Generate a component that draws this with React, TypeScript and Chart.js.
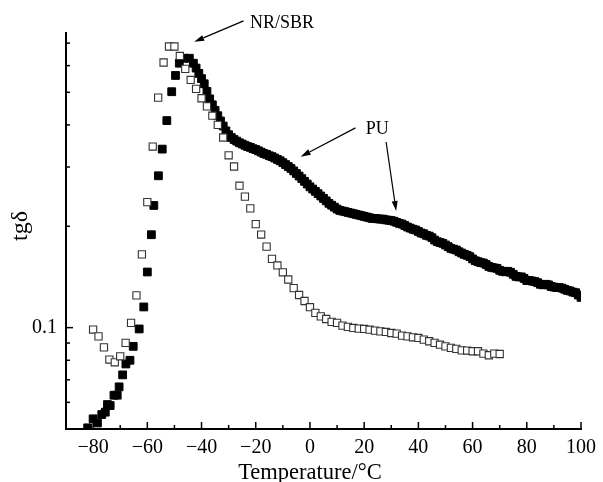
import React, { useEffect, useRef } from 'react';
import { Chart, registerables } from 'chart.js';

Chart.register(...registerables);

// ---- data ----
const openTemp = [
  -80, -78, -76, -74, -72, -70, -68, -66, -64, -62, -60, -58, -56, -54, -52, -50, -48, -46, -44, -42,
  -40, -38, -36, -34, -32, -30, -28, -26, -24, -22, -20, -18, -16, -14, -12, -10, -8, -6, -4, -2,
  0, 2, 4, 6, 8, 10, 12, 14, 16, 18, 20, 22, 24, 26, 28, 30, 32, 34, 36, 38,
  40, 42, 44, 46, 48, 50, 52, 54, 56, 58, 60, 62, 64, 66, 68, 70,
];
const openTgd = [
  0.0987, 0.0942, 0.0874, 0.0804, 0.0789, 0.0822, 0.0901, 0.1033, 0.1247, 0.165, 0.236, 0.345, 0.482, 0.613, 0.684, 0.684, 0.641, 0.587, 0.544, 0.512,
  0.48, 0.454, 0.426, 0.4, 0.367, 0.325, 0.301, 0.264, 0.245, 0.226, 0.203, 0.189, 0.174, 0.16, 0.153, 0.146, 0.139, 0.131, 0.125, 0.12,
  0.115, 0.1106, 0.108, 0.1061, 0.104, 0.1033, 0.1014, 0.1005, 0.0998, 0.0993, 0.0991, 0.0986, 0.098, 0.0975, 0.0971, 0.0964, 0.096, 0.0947, 0.0942, 0.0936,
  0.0932, 0.0921, 0.0911, 0.0901, 0.089, 0.088, 0.0871, 0.0865, 0.0856, 0.0855, 0.0851, 0.0851, 0.0837, 0.0828, 0.0837, 0.0835,
];

const filledTemp = [
  -82.0, -80.0, -78.4, -76.8, -75.5, -74.7, -73.7, -72.3, -71.1, -70.4, -69.1, -67.9, -66.4, -65.2, -63.0, -61.3,
  -60.0, -58.5, -57.6, -55.9, -54.5, -52.8, -51.0, -49.6, -48.2, -46.4, -44.5, -43.0,
  -42, -41, -40, -39, -38, -37, -36, -35, -34, -33, -32, -31, -30, -29, -28, -27, -26, -25, -24, -23, -22, -21,
  -20, -19, -18, -17, -16, -15, -14, -13, -12, -11, -10, -9, -8, -7, -6, -5, -4, -3, -2, -1,
  0, 1, 2, 3, 4, 5, 6, 7, 8, 9, 10, 11, 12, 13, 14, 15, 16, 17, 18, 19,
  20, 21, 22, 23, 24, 25, 26, 27, 28, 29, 30, 31, 32, 33, 34, 35, 36, 37, 38, 39,
  40, 41, 42, 43, 44, 45, 46, 47, 48, 49, 50, 51, 52, 53, 54, 55, 56, 57, 58, 59,
  60, 61, 62, 63, 64, 65, 66, 67, 68, 69, 70, 71, 72, 73, 74, 75, 76, 77, 78, 79,
  80, 81, 82, 83, 84, 85, 86, 87, 88, 89, 90, 91, 92, 93, 94, 95, 96, 97, 98, 99, 100,
];
const filledTgd = [
  0.0504, 0.0536, 0.0521, 0.0552, 0.0561, 0.0591, 0.0587, 0.063, 0.063, 0.0667, 0.0724, 0.078, 0.08, 0.088, 0.0991, 0.1152,
  0.1463, 0.1888, 0.2306, 0.2825, 0.339, 0.412, 0.502, 0.561, 0.61, 0.631, 0.631, 0.61,
  0.59, 0.569, 0.549, 0.53, 0.503, 0.478, 0.459, 0.442, 0.426, 0.411, 0.397, 0.384, 0.374, 0.367, 0.362, 0.358, 0.354, 0.351, 0.348, 0.345, 0.343, 0.34,
  0.338, 0.335, 0.332, 0.329, 0.327, 0.324, 0.322, 0.319, 0.316, 0.313, 0.309, 0.305, 0.301, 0.297, 0.292, 0.287, 0.282, 0.277, 0.272, 0.267,
  0.262, 0.258, 0.254, 0.25, 0.246, 0.242, 0.238, 0.234, 0.231, 0.228, 0.225, 0.223, 0.222, 0.221, 0.22, 0.219, 0.218, 0.217, 0.216, 0.215,
  0.214, 0.213, 0.212, 0.211, 0.211, 0.2105, 0.21, 0.21, 0.209, 0.2085, 0.208, 0.207, 0.2055, 0.204, 0.203, 0.201, 0.199, 0.1975, 0.196, 0.195,
  0.193, 0.191, 0.19, 0.188, 0.187, 0.185, 0.182, 0.18, 0.179, 0.178, 0.176, 0.174, 0.172, 0.171, 0.17, 0.168, 0.1665, 0.165, 0.164, 0.1625,
  0.16, 0.158, 0.157, 0.156, 0.1555, 0.154, 0.152, 0.151, 0.1505, 0.15, 0.148, 0.147, 0.1465, 0.147, 0.146, 0.144, 0.142, 0.1415, 0.1415, 0.14,
  0.138, 0.138, 0.1375, 0.137, 0.136, 0.1345, 0.134, 0.1345, 0.134, 0.1325, 0.132, 0.1315, 0.1315, 0.131, 0.13, 0.129, 0.1285, 0.1275, 0.127, 0.125, 0.123,
];

const xMajorTicks = [-80, -60, -40, -20, 0, 20, 40, 60, 80, 100];
const yTickValues = [0.05, 0.06, 0.07, 0.08, 0.09, 0.1, 0.2, 0.3, 0.4, 0.5, 0.6, 0.7];
const yLabelledTicks = [0.1];
const xTitle = 'Temperature/°C';
const yTitle = 'tgδ';

// annotations in data coordinates (temperature, tgδ)
const labelNR = { text: 'NR/SBR', x: -10.3, y: 0.80 };
const labelPU = { text: 'PU', x: 24.8, y: 0.387 };
const arrows = [
  { from: [-24.5, 0.815], to: [-42.7, 0.706] },
  { from: [16.8, 0.392], to: [-3.4, 0.322] },
  { from: [28.1, 0.356], to: [31.8, 0.222] },
];

const FONT = "'Liberation Serif', 'Times New Roman', Times, serif";

const decorPlugin = {
  id: 'decor',
  afterDraw(chart: any) {
    const ctx = chart.ctx as CanvasRenderingContext2D;
    const xs = chart.scales.x;
    const ys = chart.scales.y;
    const { left, top, bottom } = chart.chartArea;
    ctx.save();
    ctx.strokeStyle = '#000';
    ctx.fillStyle = '#000';
    ctx.lineWidth = 1.5;
    // inward x ticks
    xs.ticks.forEach((t: any) => {
      if (t.value <= xs.min) return;
      const px = xs.getPixelForValue(t.value);
      const len = xMajorTicks.includes(t.value) ? 7 : 4;
      ctx.beginPath();
      ctx.moveTo(px, bottom);
      ctx.lineTo(px, bottom - len);
      ctx.stroke();
    });
    // inward y ticks
    ys.ticks.forEach((t: any) => {
      if (t.value <= ys.min) return;
      const py = ys.getPixelForValue(t.value);
      const len = yLabelledTicks.includes(t.value) ? 7 : 4;
      ctx.beginPath();
      ctx.moveTo(left, py);
      ctx.lineTo(left + len, py);
      ctx.stroke();
    });
    // axis titles
    ctx.font = `22.5px ${FONT}`;
    ctx.textAlign = 'center';
    ctx.textBaseline = 'middle';
    ctx.fillText(xTitle, xs.getPixelForValue(0), bottom + 44);
    ctx.save();
    ctx.font = `24px ${FONT}`;
    ctx.translate(21, (top + bottom) / 2 - 5);
    ctx.rotate(-Math.PI / 2);
    ctx.fillText(yTitle, 0, 0);
    ctx.restore();
    // annotation labels
    ctx.font = `18px ${FONT}`;
    [labelNR, labelPU].forEach((l) => {
      ctx.fillText(l.text, xs.getPixelForValue(l.x), ys.getPixelForValue(l.y));
    });
    // arrows
    ctx.lineWidth = 1.2;
    arrows.forEach((a) => {
      const x1 = xs.getPixelForValue(a.from[0]);
      const y1 = ys.getPixelForValue(a.from[1]);
      const x2 = xs.getPixelForValue(a.to[0]);
      const y2 = ys.getPixelForValue(a.to[1]);
      const ang = Math.atan2(y2 - y1, x2 - x1);
      const hl = 10;
      const hw = 3;
      const bx = x2 - hl * Math.cos(ang);
      const by = y2 - hl * Math.sin(ang);
      ctx.beginPath();
      ctx.moveTo(x1, y1);
      ctx.lineTo(bx, by);
      ctx.stroke();
      ctx.beginPath();
      ctx.moveTo(x2, y2);
      ctx.lineTo(bx + hw * Math.sin(ang), by - hw * Math.cos(ang));
      ctx.lineTo(bx - hw * Math.sin(ang), by + hw * Math.cos(ang));
      ctx.closePath();
      ctx.fill();
    });
    ctx.restore();
  },
};

const fmt = (v: number) => (v < 0 ? '\u2212' + Math.abs(v) : String(v));

export default function App() {
  const ref = useRef<HTMLCanvasElement | null>(null);
  useEffect(() => {
    if (!ref.current) return;
    const chart = new Chart(ref.current, {
      type: 'scatter',
      data: {
        datasets: [
          {
            label: 'open',
            data: openTemp.map((t, i) => ({ x: t, y: openTgd[i] })),
            pointStyle: 'rect',
            pointRadius: 5.1,
            pointHoverRadius: 5.1,
            borderColor: '#333',
            backgroundColor: '#fff',
            borderWidth: 1.1,
          },
          {
            label: 'filled',
            data: filledTemp.map((t, i) => ({ x: t, y: filledTgd[i] })),
            pointStyle: 'rect',
            pointRadius: 5.5,
            pointHoverRadius: 5.5,
            borderColor: '#000',
            backgroundColor: '#000',
            borderWidth: 1,
          },
        ],
      },
      options: {
        animation: false,
        responsive: false,
        events: [],
        layout: { padding: { left: 0, right: 17, top: 33, bottom: 0 } },
        plugins: { legend: { display: false }, tooltip: { enabled: false } },
        scales: {
          x: {
            type: 'linear',
            position: 'bottom',
            min: -90,
            max: 100,
            grid: { display: false, drawTicks: false, tickLength: 0 },
            border: { display: true, color: '#000', width: 2 },
            ticks: {
              stepSize: 10,
              autoSkip: false,
              maxRotation: 0,
              padding: 7,
              color: '#000',
              font: { family: FONT, size: 20 },
              callback: (v: any) => (xMajorTicks.includes(Number(v)) ? fmt(Number(v)) : ''),
            },
            afterFit: (s: any) => {
              s.height = 53;
            },
          },
          y: {
            type: 'logarithmic',
            position: 'left',
            min: 0.05,
            max: 0.75,
            grid: { display: false, drawTicks: false, tickLength: 0 },
            border: { display: true, color: '#000', width: 2 },
            afterBuildTicks: (s: any) => {
              s.ticks = yTickValues.map((v) => ({ value: v }));
            },
            ticks: {
              autoSkip: false,
              padding: 9,
              color: '#000',
              font: { family: FONT, size: 20 },
              callback: (v: any) => (yLabelledTicks.includes(Number(v)) ? String(v) : ''),
            },
            afterFit: (s: any) => {
              s.width = 66;
            },
          },
        },
      },
      plugins: [decorPlugin],
    } as any);
    return () => chart.destroy();
  }, []);
  return (
    <div style={{ position: 'absolute', left: 0, top: 0, width: 603, height: 482, background: '#fff' }}>
      <canvas ref={ref} width={603} height={482} style={{ display: 'block' }} />
    </div>
  );
}
